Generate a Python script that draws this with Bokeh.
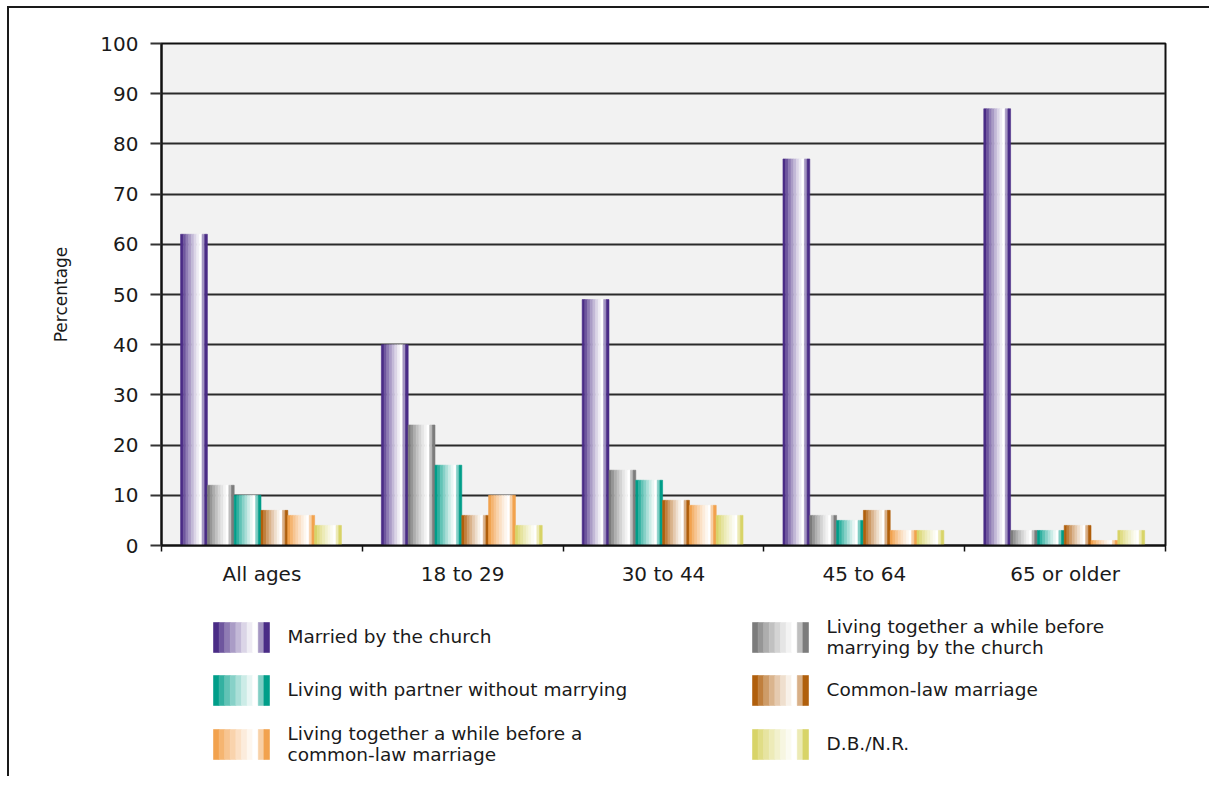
import numpy as np
from bokeh.plotting import figure
from bokeh.models import ColumnDataSource, Range1d, FixedTicker
from bokeh.layouts import column
from bokeh.core.properties import value
from bokeh.embed import file_html
from bokeh.resources import INLINE

# ---------------- data ----------------
categories = ["All ages", "18 to 29", "30 to 44", "45 to 64", "65 or older"]
series_labels = [
    "Married by the church",
    "Living together a while before\nmarrying by the church",
    "Living with partner without marrying",
    "Common-law marriage",
    "Living together a while before a\ncommon-law marriage",
    "D.B./N.R.",
]
married_church = [62, 40, 49, 77, 87]
together_then_church = [12, 24, 15, 6, 3]
partner_no_marriage = [10, 16, 13, 5, 3]
common_law = [7, 6, 9, 7, 4]
together_then_common_law = [6, 10, 8, 3, 1]
dbnr = [4, 4, 6, 3, 3]
y_ticks = [0, 10, 20, 30, 40, 50, 60, 70, 80, 90, 100]

series_values = [married_church, together_then_church, partner_no_marriage,
                 common_law, together_then_common_law, dbnr]
base_colors = ["#4a2c86", "#7c7c7c", "#009e89", "#b05f0c", "#f2a24e", "#d8d468"]

# ---------------- styling helpers ----------------
FONT = "DejaVu Sans"
TEXT = "#1a1a1a"
# white-mix fraction for the vertical strips that fake the cylinder gradient
strip_mix = [0.0, 0.2, 0.38, 0.53, 0.67, 0.8, 0.91, 1.0, 0.5, 0.0]
n_strips = len(strip_mix)


def mix_white(hexcol, t):
    h = hexcol.lstrip("#")
    r, g, b = (int(h[i:i + 2], 16) for i in (0, 2, 4))
    r = round(r + (255 - r) * t)
    g = round(g + (255 - g) * t)
    b = round(b + (255 - b) * t)
    return "#%02x%02x%02x" % (r, g, b)


# ---------------- layout constants ----------------
W = 1200
MB_L, MB_R = 152, 44
TOP_H = 582
LH = 186

# ---------------- main chart ----------------
group_start = 0.095
bar_w = 0.1335

left, right, top, colors = [], [], [], []
for s, vals in enumerate(series_values):
    for i, v in enumerate(vals):
        x0 = i + group_start + s * bar_w
        for k, t in enumerate(strip_mix):
            left.append(x0 + k * bar_w / n_strips)
            right.append(x0 + (k + 1) * bar_w / n_strips)
            top.append(v)
            colors.append(mix_white(base_colors[s], t))
bars = ColumnDataSource(dict(left=left, right=right, top=top,
                             bottom=[0] * len(top), color=colors))

p = figure(width=W, height=TOP_H, x_range=Range1d(0, len(categories)),
           y_range=Range1d(0, 100), output_backend="svg", toolbar_location=None,
           min_border_left=MB_L, min_border_right=MB_R, min_border_top=35,
           min_border_bottom=45)
p.background_fill_color = "#f2f2f2"
p.border_fill_color = "white"
p.outline_line_color = "#111111"
p.outline_line_width = 2

p.quad(left="left", right="right", top="top", bottom="bottom", source=bars,
       fill_color="color", line_color="color", line_width=0.6)

p.xgrid.visible = False
p.ygrid.grid_line_color = "#2a2a2a"
p.ygrid.grid_line_width = 2
p.ygrid.ticker = FixedTicker(ticks=y_ticks)

p.yaxis.ticker = FixedTicker(ticks=y_ticks)
p.yaxis.axis_line_color = "#111111"
p.yaxis.axis_line_width = 2
p.yaxis.major_tick_out = 11
p.yaxis.major_tick_in = 0
p.yaxis.major_tick_line_color = "#333333"
p.yaxis.major_tick_line_width = 2
p.yaxis.minor_tick_line_color = None
p.yaxis.major_label_text_font = FONT
p.yaxis.major_label_text_font_size = "20px"
p.yaxis.major_label_text_color = TEXT
p.yaxis.major_label_standoff = 12
p.yaxis.axis_label = "Percentage"
p.yaxis.axis_label_text_font = FONT
p.yaxis.axis_label_text_font_size = "17px"
p.yaxis.axis_label_text_font_style = "normal"
p.yaxis.axis_label_text_color = TEXT
p.yaxis.axis_label_standoff = 26

centers = [i + 0.5 for i in range(len(categories))]
bounds = list(range(len(categories) + 1))
p.xaxis.ticker = FixedTicker(ticks=centers, minor_ticks=bounds)
p.xaxis.major_label_overrides = {c: lab for c, lab in zip(centers, categories)}
p.xaxis.axis_line_color = "#111111"
p.xaxis.axis_line_width = 2
p.xaxis.major_tick_line_color = None
p.xaxis.major_tick_out = 0
p.xaxis.major_tick_in = 0
p.xaxis.minor_tick_line_color = "#111111"
p.xaxis.minor_tick_line_width = 1.5
p.xaxis.minor_tick_out = 6
p.xaxis.minor_tick_in = 0
p.xaxis.major_label_text_font = FONT
p.xaxis.major_label_text_font_size = "20px"
p.xaxis.major_label_text_color = TEXT
p.xaxis.major_label_standoff = 10

# ---------------- legend (own panel, frame aligned with chart frame) ----------------
# coordinates of the legend panel are expressed in page pixels
FX0, FX1 = 161, 1165           # horizontal frame extent
LY0 = 590                      # top of legend panel
lf = figure(width=W, height=LH, x_range=Range1d(FX0, FX1),
            y_range=Range1d(LY0 + LH, LY0),
            output_backend="svg", toolbar_location=None,
            x_axis_type=None, y_axis_type=None,
            min_border_left=MB_L, min_border_right=MB_R, min_border_top=0,
            min_border_bottom=0)
lf.grid.visible = False
lf.outline_line_color = None
lf.background_fill_color = "white"
lf.border_fill_color = "white"

col_x = [213, 752]            # swatch left edges
row_top = [622, 675, 729]      # swatch top edges
sw_w, sw_h = 56, 30
text_dx = 74
# legend order: left column married / partner / together-common-law,
# right column together-church / common-law / DB-NR
legend_slots = [(0, 0), (1, 0), (0, 1), (1, 1), (0, 2), (1, 2)]

lleft, lright, ltop, lbot, lcol = [], [], [], [], []
tx, ty, tt = [], [], []
for s, (c, r) in enumerate(legend_slots):
    x0 = col_x[c]
    y0 = row_top[r]
    for k, t in enumerate(strip_mix):
        lleft.append(x0 + k * sw_w / n_strips)
        lright.append(x0 + (k + 1) * sw_w / n_strips)
        ltop.append(y0)
        lbot.append(y0 + sw_h)
        lcol.append(mix_white(base_colors[s], t))
    tx.append(x0 + text_dx)
    ty.append(y0 + sw_h / 2 - 1)
    tt.append(series_labels[s])

lf.quad(left=lleft, right=lright, top=ltop, bottom=lbot,
        fill_color=lcol, line_color=lcol, line_width=0.6)
lf.text(x=tx, y=ty, text=tt, text_font=value(FONT), text_font_size="18.5px",
        text_color=TEXT, text_baseline="middle", text_align="left",
        text_line_height=1.0)

layout = column(p, lf, spacing=0,
                styles={"border-top": "2px solid #1a1a1a",
                        "border-left": "2px solid #1a1a1a",
                        "margin-top": "6px", "margin-left": "7px"})

open("out.html", "w").write(file_html(layout, INLINE))
